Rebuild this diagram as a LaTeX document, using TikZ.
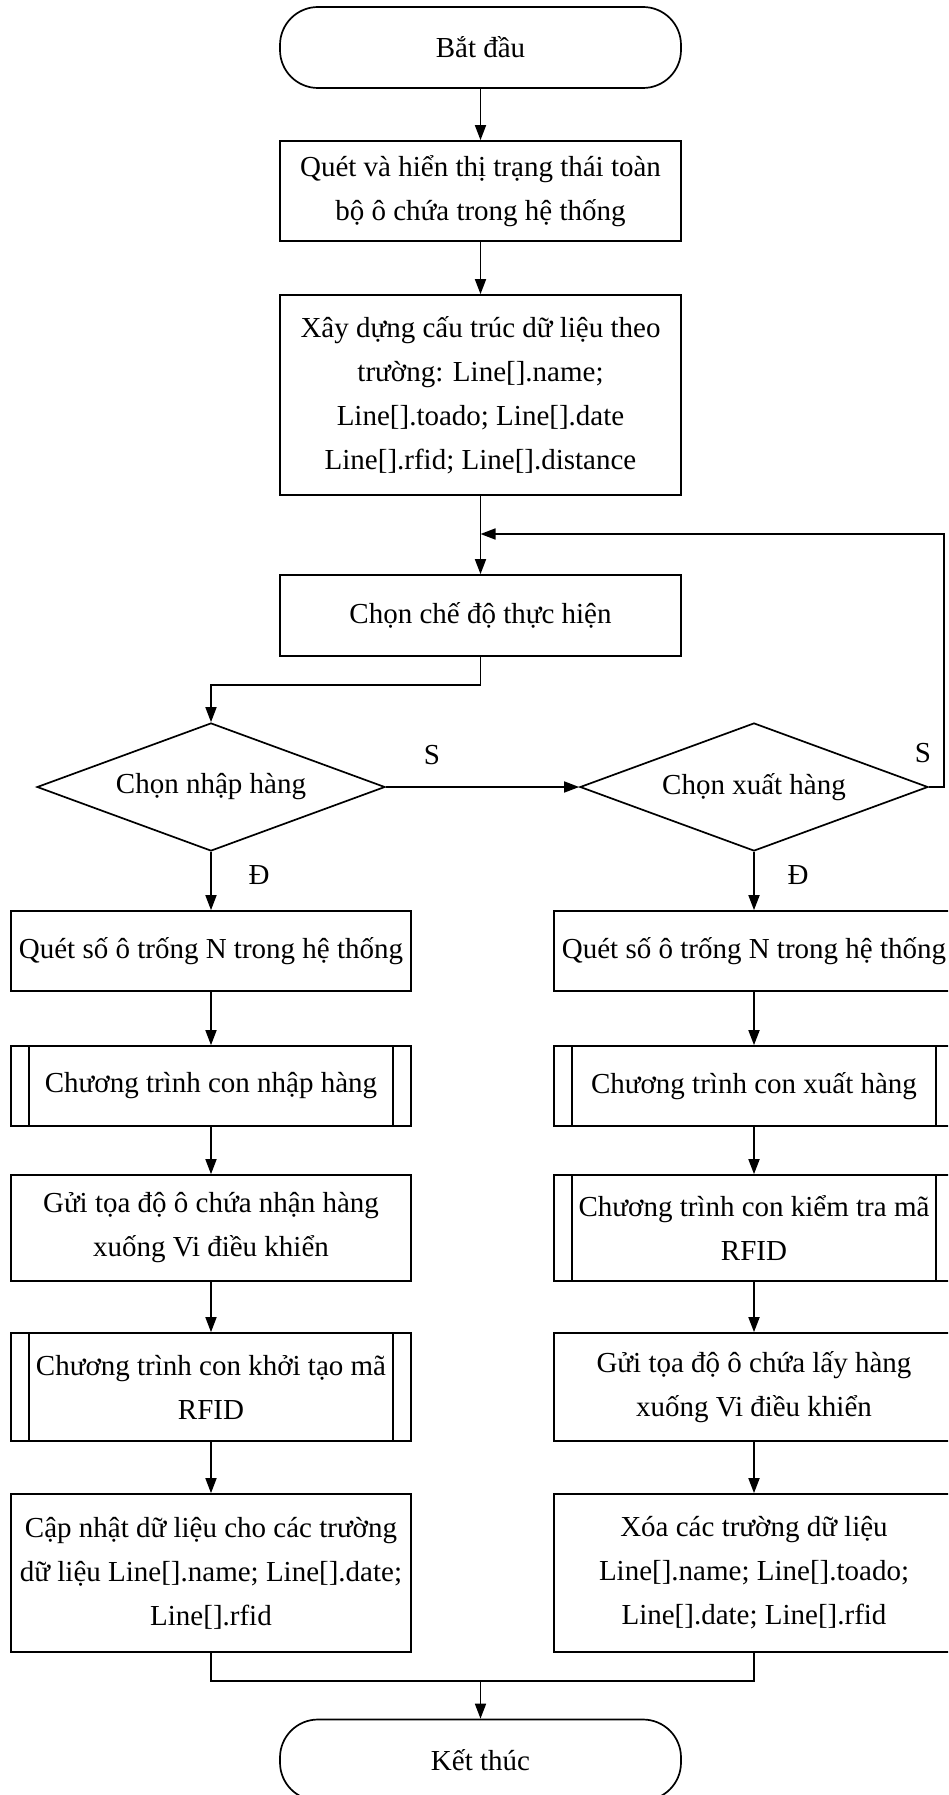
\documentclass[tikz,border=0pt]{standalone}
\usepackage{fontspec}
\setmainfont{Liberation Serif}
\usetikzlibrary{arrows.meta,shapes.geometric}
\tikzset{
  ln/.style={line width=1.7pt},
  box/.style={draw, ln, rectangle, inner sep=0pt, minimum width=401pt},
  colbox/.style={box, minimum width=400pt},
  subbox/.style={colbox, path picture={
      \draw[ln] ([xshift=18pt]path picture bounding box.north west) -- ([xshift=18pt]path picture bounding box.south west);
      \draw[ln] ([xshift=-18pt]path picture bounding box.north east) -- ([xshift=-18pt]path picture bounding box.south east);}},
  decision/.style={draw, ln, diamond, aspect=2.72, inner sep=0pt, minimum width=348pt, minimum height=128pt},
  term/.style={box, rounded corners=38pt, minimum height=81pt},
  arr/.style={ln, -{Triangle[length=15pt,width=11pt]}},
  lbl/.style={inner sep=0pt}
}
\begin{document}
\begin{tikzpicture}[x=1pt,y=-1pt,
  every node/.append style={font=\fontsize{29}{44}\selectfont, align=center}]
\useasboundingbox (0,0) rectangle (948,1795);
\fill[white] (0,0) rectangle (948,1795);
\clip (0,0) rectangle (948,1795);

% main column
\node[term] (start) at (480.5,47.5) {Bắt đầu};
\node[box, minimum height=100pt] (b1) at (480.5,191) {Quét và hiển thị trạng thái toàn\\bộ ô chứa trong hệ thống};
\node[box, minimum height=200pt] (b2) at (480.5,395) {Xây dựng cấu trúc dữ liệu theo\\trường: Line[].name;\\Line[].toado; Line[].date\\Line[].rfid; Line[].distance};
\node[box, minimum height=81pt] (b3) at (480.5,615.5) {Chọn chế độ thực hiện};

% decisions
\node[decision] (d1) at (211,787) {Chọn nhập hàng};
\node[decision] (d2) at (754,787) {Chọn xuất hàng};

% left column
\node[colbox, minimum height=80pt] (L1) at (211,951) {Quét số ô trống N trong hệ thống};
\node[subbox, minimum height=80pt] (L2) at (211,1086) {Chương trình con nhập hàng};
\node[colbox, minimum height=106pt] (L3) at (211,1228) {Gửi tọa độ ô chứa nhận hàng\\xuống Vi điều khiển};
\node[subbox, minimum height=108pt] (L4) at (211,1387) {Chương trình con khởi tạo mã\\RFID};
\node[colbox, minimum height=158pt] (L5) at (211,1573) {Cập nhật dữ liệu cho các trường\\dữ liệu Line[].name; Line[].date;\\Line[].rfid};

% right column
\node[colbox, minimum height=80pt] (R1) at (754,951) {Quét số ô trống N trong hệ thống};
\node[subbox, minimum height=80pt] (R2) at (754,1086) {Chương trình con xuất hàng};
\node[subbox, minimum height=106pt] (R3) at (754,1228) {Chương trình con kiểm tra mã\\RFID};
\node[colbox, minimum height=108pt] (R4) at (754,1387) {Gửi tọa độ ô chứa lấy hàng\\xuống Vi điều khiển};
\node[colbox, minimum height=158pt] (R5) at (754,1573) {Xóa các trường dữ liệu\\Line[].name; Line[].toado;\\Line[].date; Line[].rfid};

% end
\node[term] (end) at (480.5,1760) {Kết thúc};

% labels
\node[lbl] (s1) at (432,755) {S};
\node[lbl] (s2) at (923,753) {S};
\node[lbl] (e1) at (259,875) {Đ};
\node[lbl] (e2) at (798,875) {Đ};

% helper coordinates
\coordinate (loopin) at (480.5,534);
\coordinate (loopR) at (944,534);
\coordinate (elbow) at (211,685);
\coordinate (m) at (480.5,1681);

% connectors
\draw[arr] (start) -- (b1);
\draw[arr] (b1) -- (b2);
\draw[arr] (b2) -- (b3);
\draw[arr] (d2.east) -| (loopR) -- (loopin);
\draw[arr] (b3.south) |- (elbow) -- (d1.north);
\draw[arr] (d1.east) -- (d2.west);
\draw[arr] (d1.south) -- (L1.north);
\draw[arr] (d2.south) -- (R1.north);
\draw[arr] (L1) -- (L2);
\draw[arr] (L2) -- (L3);
\draw[arr] (L3) -- (L4);
\draw[arr] (L4) -- (L5);
\draw[arr] (R1) -- (R2);
\draw[arr] (R2) -- (R3);
\draw[arr] (R3) -- (R4);
\draw[arr] (R4) -- (R5);
\draw[ln] (L5.south) -- (L5.south |- m) -- (R5.south |- m) -- (R5.south);
\draw[arr] (m) -- (end.north);
\end{tikzpicture}
\end{document}
